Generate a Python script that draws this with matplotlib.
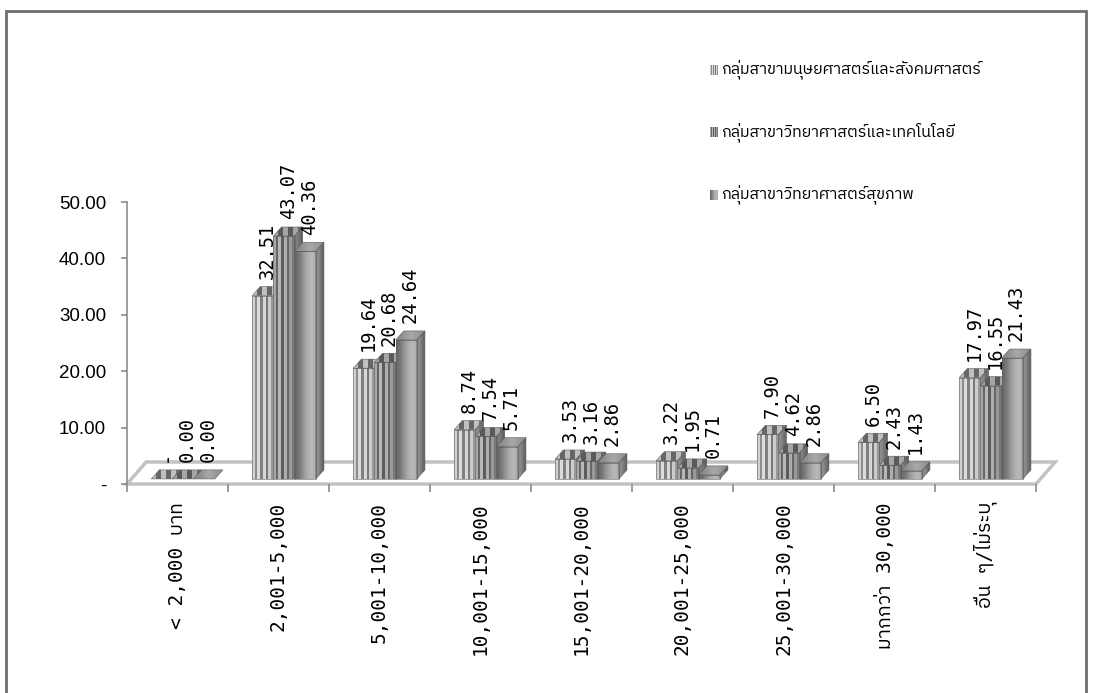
import numpy as np
import matplotlib
matplotlib.use('Agg')
import matplotlib.pyplot as plt
from matplotlib import font_manager
from matplotlib.ft2font import FT2Font
from matplotlib.patches import Polygon, Rectangle

# monthly income groups and share of graduates (%) per faculty group
categories = ['< 2,000 บาท', '2,001-5,000', '5,001-10,000', '10,001-15,000',
              '15,001-20,000', '20,001-25,000', '25,001-30,000',
              'มากกว่า 30,000', 'อื่น ๆ/ไม่ระบุ']
series_names = ['กลุ่มสาขามนุษยศาสตร์และสังคมศาสตร์',
                'กลุ่มสาขาวิทยาศาสตร์และเทคโนโลยี',
                'กลุ่มสาขาวิทยาศาสตร์สุขภาพ']
humanities = [np.nan, 32.51, 19.64, 8.74, 3.53, 3.22, 7.90, 6.50, 17.97]
sci_tech = [0.00, 43.07, 20.68, 7.54, 3.16, 1.95, 4.62, 2.43, 16.55]
health = [0.00, 40.36, 24.64, 5.71, 2.86, 0.71, 2.86, 1.43, 21.43]
yticks = [0, 10, 20, 30, 40, 50]
ytick_labels = ['-', '10.00', '20.00', '30.00', '40.00', '50.00']


def find_thai_font():
    # look for any installed face that actually carries Thai glyphs
    found = []
    for f in font_manager.fontManager.ttflist:
        try:
            cmap = FT2Font(f.fname).get_charmap()
        except Exception:
            continue
        if 0x0E01 in cmap and 0x0E38 in cmap:
            found.append(f.name)
    if not found:
        return None
    found.sort(key=lambda n: (0 if 'Sans' in n else 1, 'Mono' in n, n))
    return found[0]


thai = find_thai_font()
mono_fam = ['DejaVu Sans Mono'] + ([thai] if thai else [])
thai_fam = ([thai] if thai else []) + ['DejaVu Sans']

# gray tones across each face: front, side, top
tones = [
    dict(front=[0.82, 0.55, 0.86, 0.50, 0.84, 0.48, 0.80, 0.60],
         side=[0.55, 0.42], top=[0.75, 0.40, 0.75, 0.40, 0.75, 0.45], interp='nearest'),
    dict(front=[0.66, 0.40, 0.72, 0.36, 0.68, 0.40, 0.60, 0.48],
         side=[0.50, 0.38], top=[0.65, 0.35, 0.65, 0.35, 0.65, 0.40], interp='nearest'),
    dict(front=[0.42, 0.50, 0.60, 0.68, 0.72, 0.68],
         side=[0.55, 0.40], top=[0.55, 0.66, 0.58], interp='bilinear'),
]

W, H = 1099, 693
fig = plt.figure(figsize=(W / 100, H / 100), dpi=100)
fig.patch.set_facecolor('white')

# outer chart frame
fig.add_artist(Rectangle((6 / W, -0.1), 1080 / W, 1.1 - 11 / H, transform=fig.transFigure,
                         fill=False, edgecolor='#6e6e6e', lw=2))

ax = fig.add_axes([127 / W, 209 / H, 909 / W, 383.5 / H])
ax.set_facecolor('none')


def shade(xy, vals, interp, z):
    patch = Polygon(xy, closed=True, facecolor='none', edgecolor='none', zorder=z)
    ax.add_patch(patch)
    xs = [p[0] for p in xy]
    ys = [p[1] for p in xy]
    im = ax.imshow(np.array([vals]), cmap='gray', vmin=0, vmax=1, aspect='auto',
                   interpolation=interp, extent=(min(xs), max(xs), min(ys), max(ys)),
                   zorder=z)
    im.set_clip_path(patch)
    ax.add_patch(Polygon(xy, closed=True, facecolor='none', edgecolor='#5a5a5a',
                         lw=0.4, zorder=z + 0.1))


# floor of the 3-D plot area
fdx, fdy = 0.19, 3.9
ax.add_patch(Polygon([(0, 0), (9, 0), (9 + fdx, fdy), (fdx, fdy)], closed=True,
                     facecolor='white', edgecolor='#c2c2c2', lw=2.5, zorder=1,
                     clip_on=False))

lift = 0.9          # bars stand a little behind the front edge
bw, ddx, ddy = 0.21, 0.08, 1.6
z = 2
for i in range(len(categories)):
    for k, ser in enumerate([humanities, sci_tech, health]):
        v = ser[i]
        h = 0.0 if np.isnan(v) else v
        x0 = i + 0.24 + bw * k
        x1 = x0 + bw
        b, t = lift, lift + h
        st = tones[k]
        if h > 0:
            shade([(x0, b), (x1, b), (x1, t), (x0, t)], st['front'], st['interp'], z)
            shade([(x1, b), (x1 + ddx, b + ddy), (x1 + ddx, t + ddy), (x1, t)],
                  st['side'], 'bilinear', z)
        shade([(x0, t), (x1, t), (x1 + ddx, t + ddy), (x0 + ddx, t + ddy)],
              st['top'], st['interp'], z)
        z += 1
        label = '-' if np.isnan(v) else f'{v:.2f}'
        ax.annotate(label, (x0 + bw / 2 + ddx / 2, t), xytext=(0, 12),
                    textcoords='offset points', rotation=90, ha='center', va='bottom',
                    fontsize=13.5, family='DejaVu Sans Mono', color='black',
                    zorder=200)

ax.set_xlim(0, 9)
ax.set_ylim(0, 68)

for s in ['top', 'right']:
    ax.spines[s].set_visible(False)
ax.spines['left'].set_bounds(0, 50)
ax.spines['left'].set_color('#8c8c8c')
ax.spines['left'].set_linewidth(1.2)
ax.spines['bottom'].set_color('#8c8c8c')
ax.spines['bottom'].set_linewidth(1.2)
ax.spines['bottom'].set_zorder(0.5)

ax.set_yticks(yticks)
ax.set_yticklabels(ytick_labels, fontsize=13.5, family=['Liberation Sans', 'DejaVu Sans'])
ax.tick_params(axis='y', direction='out', length=4, width=1.2, color='#8c8c8c', pad=11)

ax.set_xticks(np.arange(len(categories)) + 0.5)
ax.set_xticklabels(categories, rotation=90, fontsize=14)
for lbl in ax.get_xticklabels():
    lbl.set_family(mono_fam)
ax.set_xticks(np.arange(len(categories) + 1), minor=True)
ax.tick_params(axis='x', which='major', length=0, pad=13)
ax.tick_params(axis='x', which='minor', direction='out', length=6, width=1.2,
               color='#8c8c8c')

# legend: small textured swatch plus Thai caption
leg_y = [70, 132, 195]
for k, name in enumerate(series_names):
    y = leg_y[k]
    iax = fig.add_axes([710 / W, 1 - (y + 5) / H, 8 / W, 10 / H])
    iax.imshow(np.array([tones[k]['front']]), cmap='gray', vmin=0, vmax=1, aspect='auto',
               interpolation=tones[k]['interp'])
    iax.axis('off')
    fig.text(721 / W, 1 - y / H, name, ha='left', va='center', fontsize=11.5,
             family=thai_fam)

fig.savefig('out.png', dpi=100)
